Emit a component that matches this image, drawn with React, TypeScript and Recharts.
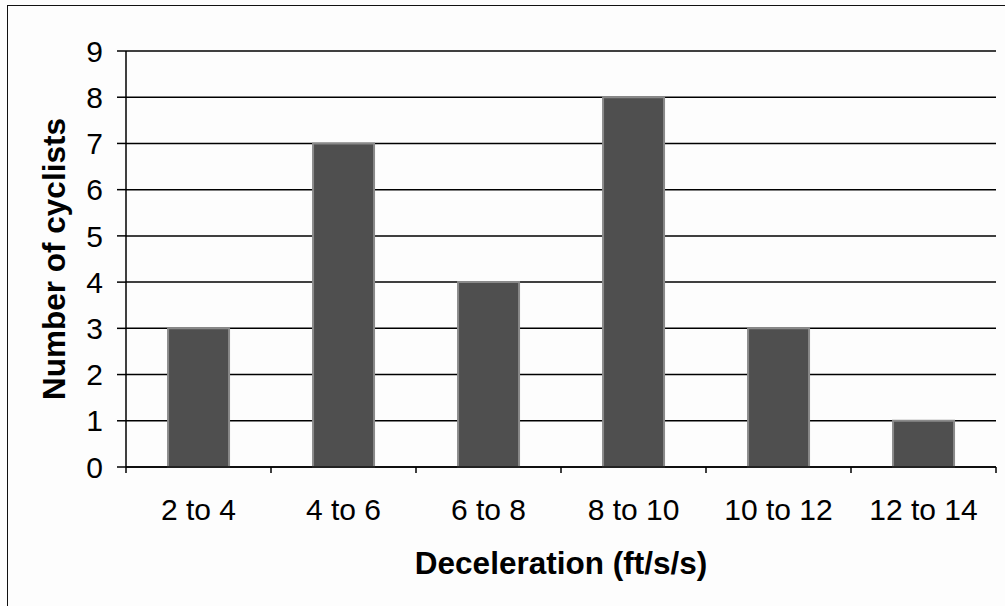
import { BarChart, Bar, XAxis, YAxis, CartesianGrid } from 'recharts';

const categories = ['2 to 4', '4 to 6', '6 to 8', '8 to 10', '10 to 12', '12 to 14'];
const cyclists = [3, 7, 4, 8, 3, 1];
const yTicks = [0, 1, 2, 3, 4, 5, 6, 7, 8, 9];

const FONT = '"Liberation Sans", Arial, Helvetica, sans-serif';
const TICK_SIZE = 6;
const TICK_MARGIN = 26;

const data = categories.map((name, i) => ({ name, count: cyclists[i] }));

// label at the band centre, tick marks at the band edges like the old Excel chart
function CategoryTick(props: any) {
    const { x, y, payload, index, visibleTicksCount } = props;
    const half = payload.offset || 0;
    const axisY = y - TICK_SIZE - TICK_MARGIN;
    const isLast = index === visibleTicksCount - 1;
    return (
        <g>
            <line x1={x - half} x2={x - half} y1={axisY} y2={axisY + TICK_SIZE} stroke="#000" strokeWidth={1.5} />
            {isLast && (
                <line x1={x + half} x2={x + half} y1={axisY} y2={axisY + TICK_SIZE} stroke="#000" strokeWidth={1.5} />
            )}
            <text x={x} y={y} dy="0.7em" textAnchor="middle" fontSize={30} fontFamily={FONT} fill="#000">
                {payload.value}
            </text>
        </g>
    );
}

function XTitle(props: any) {
    const { viewBox } = props;
    return (
        <text
            x={viewBox.x + viewBox.width / 2}
            y={viewBox.y + 107}
            textAnchor="middle"
            fontSize={31.5}
            fontWeight="bold"
            fontFamily={FONT}
            fill="#000"
        >
            Deceleration (ft/s/s)
        </text>
    );
}

function YTitle(props: any) {
    const { viewBox } = props;
    const cx = 65;
    const cy = viewBox.y + viewBox.height / 2;
    return (
        <text
            x={cx}
            y={cy}
            transform={`rotate(-90, ${cx}, ${cy})`}
            textAnchor="middle"
            fontSize={31.5}
            fontWeight="bold"
            fontFamily={FONT}
            fill="#000"
        >
            Number of cyclists
        </text>
    );
}

export default function App() {
    return (
        <div
            style={{
                position: 'absolute',
                left: 0,
                top: 0,
                width: 1005,
                height: 606,
                background: '#fdfdfd',
                overflow: 'hidden',
            }}
        >
            <div
                style={{
                    position: 'absolute',
                    left: 7,
                    top: 5,
                    width: 1010,
                    height: 620,
                    borderLeft: '1.5px solid #111',
                    borderTop: '1.5px solid #111',
                }}
            />
            <BarChart
                width={1005}
                height={606}
                data={data}
                margin={{ top: 51, right: 9, left: 0, bottom: 0 }}
                barCategoryGap="29%"
                style={{ position: 'absolute', left: 0, top: 0 }}
            >
                <CartesianGrid horizontal vertical={false} stroke="#000" strokeWidth={1.5} strokeOpacity={1} />
                <XAxis
                    dataKey="name"
                    height={139}
                    axisLine={{ stroke: '#000', strokeWidth: 1.5 }}
                    tickLine={false}
                    tickSize={TICK_SIZE}
                    tickMargin={TICK_MARGIN}
                    tick={<CategoryTick />}
                    interval={0}
                    label={<XTitle />}
                />
                <YAxis
                    width={126}
                    domain={[0, 9]}
                    ticks={yTicks}
                    interval={0}
                    axisLine={{ stroke: '#000', strokeWidth: 1.5 }}
                    tickLine={{ stroke: '#000', strokeWidth: 1.5 }}
                    tickSize={9}
                    tickMargin={14}
                    tick={{ fontSize: 30, fontFamily: FONT, fill: '#000' }}
                    label={<YTitle />}
                />
                <YAxis
                    yAxisId="frame"
                    orientation="right"
                    width={0}
                    domain={[0, 9]}
                    axisLine={{ stroke: '#000', strokeWidth: 1.5 }}
                    tick={false}
                    tickLine={false}
                />
                <Bar
                    dataKey="count"
                    fill="#4f4f4f"
                    stroke="#8a8a8a"
                    strokeWidth={2}
                    isAnimationActive={false}
                />
            </BarChart>
        </div>
    );
}
